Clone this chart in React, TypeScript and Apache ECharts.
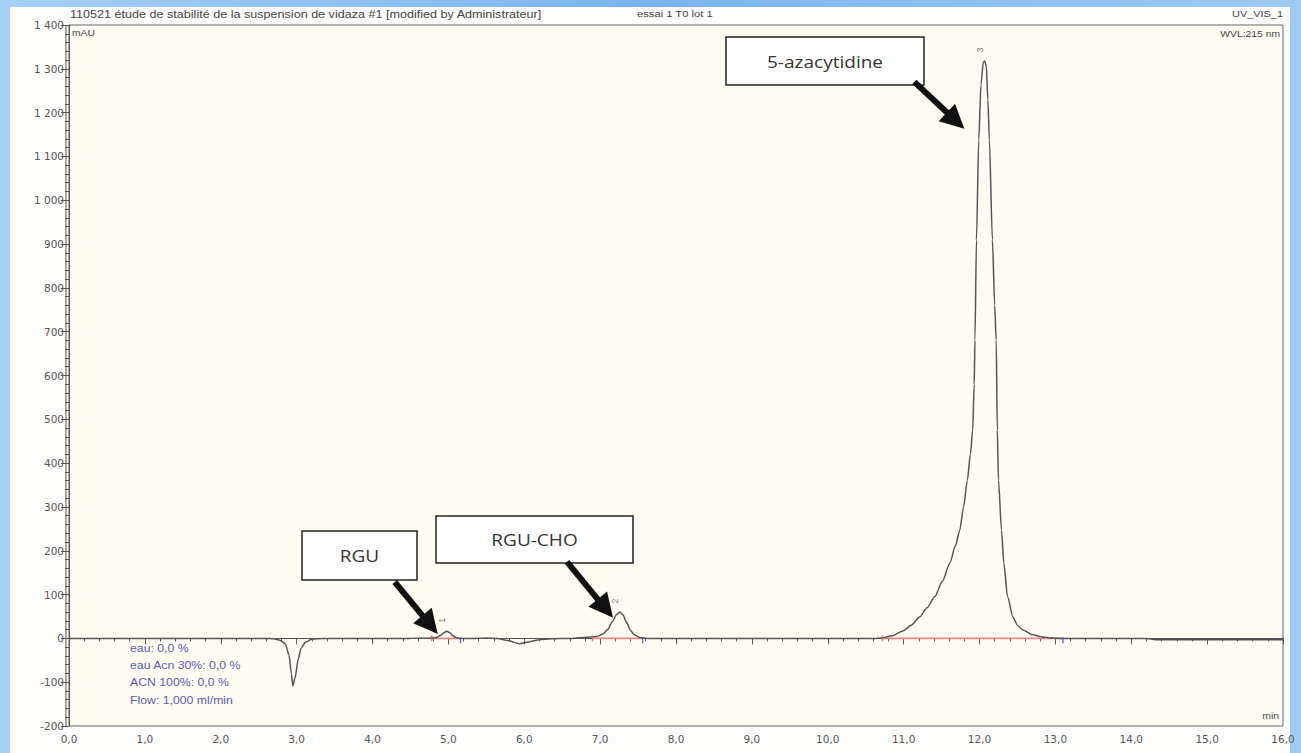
import React, { useEffect, useRef } from "react";
import * as echarts from "echarts";

// Chromatogram trace: retention time (min) and detector signal (mAU)
const timeMin = [
  0.0, 0.5, 1.0, 1.5, 2.0, 2.5, 2.6, 2.7, 2.78, 2.85, 2.9, 2.93, 2.95, 2.98, 3.02, 3.06, 3.12, 3.2, 3.35,
  4.0, 4.5, 4.75, 4.84, 4.9, 4.94, 4.98, 5.02, 5.06, 5.1, 5.15, 5.3, 5.5, 5.65, 5.78, 5.94, 6.06, 6.2, 6.35,
  6.6, 6.8, 6.95, 7.04, 7.1, 7.16, 7.22, 7.26, 7.3, 7.35, 7.4, 7.45, 7.52, 7.62, 8.0, 9.0, 10.0, 10.6,
  10.72, 10.85, 10.99, 11.1, 11.21, 11.31, 11.41, 11.51, 11.61, 11.68, 11.74, 11.79, 11.84, 11.88, 11.91,
  11.93, 11.94, 11.96, 11.99, 12.02, 12.05, 12.07, 12.09, 12.11, 12.13, 12.17, 12.2, 12.22, 12.235, 12.25,
  12.29, 12.32, 12.37, 12.44, 12.5, 12.57, 12.7, 12.83, 12.95, 13.1, 14.0, 14.2, 14.32, 14.5, 15.0, 16.0,
];
const signalMAU = [
  0, 0, 0, 0, 0, 0, 0, -1, -4, -12, -38, -80, -108, -90, -48, -22, -8, -2, 0,
  0, 0, 0.5, 2, 7, 13, 16, 13, 6, 2, 0, 0, 1, 0, -5, -12, -8, -3, -1,
  0, 2, 4, 10, 20, 38, 55, 60, 54, 36, 18, 8, 2, 0, 0, 0, 0, 0,
  1, 6, 17, 30, 49, 70, 95, 130, 172, 210, 247, 300, 361, 420, 475,
  580, 681, 910, 1138, 1265, 1315, 1318, 1305, 1230, 1138, 910, 760, 681, 475, 361,
  247, 172, 95, 49, 30, 19, 8, 3, 1, 0, 0, 0, -3, -3, -3, -3,
];

// Integrated peaks
const peakNumbers = ["1", "2", "3"];
const peakTimes = [4.98, 7.26, 12.07];
const peakHeights = [16, 60, 1318];
const integrationStart = [4.78, 6.9, 10.72];
const integrationEnd = [5.16, 7.56, 13.1];

// Compound annotations
const compoundNames = ["RGU", "RGU-CHO", "5-azacytidine"];
const arrowTipTime = [4.86, 7.17, 11.8];
const arrowTipSignal = [10, 47, 1163];

// Method conditions printed in the plot
const methodLines = ["eau: 0,0 %", "eau Acn 30%: 0,0 %", "ACN 100%: 0,0 %", "Flow: 1,000 ml/min"];

const reportTitle = "110521 étude de stabilité de la suspension de vidaza #1 [modified by Administrateur]";
const injectionName = "essai 1 T0 lot 1";
const channelName = "UV_VIS_1";
const wavelengthLabel = "WVL:215 nm";

// Annotation layout (px)
const boxRects = [
  [302, 531, 115, 49],
  [436, 516, 197, 47],
  [726, 37, 198, 48],
];
const tailOffsets = [
  [-43, -52],
  [-46, -56],
  [-50, -47],
];

const AXIS_FONT = "DejaVu Sans";
const TEXT_FONT = "Liberation Sans";

function fmtY(v: number): string {
  const a = Math.abs(v);
  const s = a >= 1000 ? `${Math.floor(a / 1000)} ${String(a % 1000).padStart(3, "0")}` : String(a);
  return v < 0 ? `-${s}` : s;
}

export default function App() {
  const ref = useRef<HTMLDivElement>(null);

  useEffect(() => {
    if (!ref.current) return;
    const chart = echarts.init(ref.current, undefined, { renderer: "svg" });

    const trace = timeMin.map((t, i) => [t, signalMAU[i]]);
    const baselineSeries = integrationStart.map((s, i) => ({
      type: "line",
      silent: true,
      symbol: "none",
      z: 1,
      data: [
        [s, 0],
        [integrationEnd[i], 0],
      ],
      lineStyle: { color: "#e38888", width: 1.8 },
    }));

    const option: any = {
      animation: false,
      backgroundColor: "transparent",
      grid: {
        left: 69,
        right: 18,
        top: 25,
        bottom: 27,
        show: true,
        backgroundColor: "#fffcf2",
        borderColor: "#666",
        borderWidth: 1,
      },
      xAxis: {
        type: "value",
        min: 0,
        max: 16,
        interval: 1,
        offset: 2,
        axisLine: { show: true, lineStyle: { color: "#555", width: 1 } },
        axisTick: { show: true, length: 6, lineStyle: { color: "#555" } },
        minorTick: { show: true, splitNumber: 5, length: 3, lineStyle: { color: "#555" } },
        splitLine: { show: false },
        axisLabel: {
          color: "#555",
          fontSize: 10.5,
          fontFamily: AXIS_FONT,
          margin: 5,
          formatter: (v: number) => v.toFixed(1).replace(".", ","),
        },
      },
      yAxis: {
        type: "value",
        min: -200,
        max: 1400,
        interval: 100,
        offset: 3,
        axisLine: { show: true, lineStyle: { color: "#555", width: 1 } },
        axisTick: { show: true, length: 8, lineStyle: { color: "#555" } },
        minorTick: { show: true, splitNumber: 5, length: 4, lineStyle: { color: "#555" } },
        splitLine: { show: false },
        axisLabel: {
          color: "#555",
          fontSize: 10.5,
          fontFamily: AXIS_FONT,
          margin: 2,
          formatter: fmtY,
        },
      },
      series: [
        ...baselineSeries,
        {
          type: "line",
          data: trace,
          symbol: "none",
          smooth: 0.25,
          smoothMonotone: "x",
          z: 3,
          lineStyle: { color: "#555", width: 1.5 },
        },
        {
          type: "scatter",
          z: 4,
          symbol: "rect",
          symbolSize: [1.5, 6],
          itemStyle: { color: "#d46a6a" },
          data: integrationStart.map((s) => [s, 0]),
        },
        {
          type: "scatter",
          z: 4,
          symbol: "rect",
          symbolSize: [1.5, 6],
          symbolOffset: [0, 2],
          itemStyle: { color: "#4a55c0" },
          data: integrationEnd.map((s) => [s, 0]),
        },
        {
          type: "scatter",
          z: 4,
          symbolSize: 0,
          data: peakTimes.map((t, i) => [t, peakHeights[i], peakNumbers[i]]),
          label: {
            show: true,
            position: "top",
            distance: 11,
            rotate: 90,
            fontSize: 9,
            fontFamily: TEXT_FONT,
            color: "#555",
            formatter: (p: any) => p.data[2],
          },
        },
      ],
    };
    chart.setOption(option);

    const graphics: any[] = [];

    // second vertical rule of the signal axis
    graphics.push({
      type: "line",
      shape: { x1: 66, y1: 25, x2: 66, y2: 726 },
      style: { stroke: "#555", lineWidth: 1 },
      silent: true,
    });

    const txt = (
      text: string,
      x: number,
      y: number,
      align: string,
      opts: { size?: number; fill?: string; font?: string; sx?: number } = {}
    ) => ({
      type: "text",
      x,
      y,
      scaleX: opts.sx ?? 1.15,
      silent: true,
      z: 10,
      style: {
        text,
        fill: opts.fill ?? "#444",
        fontSize: opts.size ?? 9,
        fontFamily: opts.font ?? TEXT_FONT,
        align,
        verticalAlign: "middle",
      },
    });

    graphics.push(txt(reportTitle, 70, 14, "left", { size: 10, sx: 1.26 }));
    graphics.push(txt(injectionName, 637, 14, "left", { size: 9.5, sx: 1.18 }));
    graphics.push(txt(channelName, 1283, 14, "right", { size: 9.5 }));
    graphics.push(txt("mAU", 72, 33, "left"));
    graphics.push(txt(wavelengthLabel, 1280, 34, "right"));
    graphics.push(txt("min", 1279, 716, "right"));
    methodLines.forEach((line, i) => {
      graphics.push(txt(line, 130, 648 + i * 17.3, "left", { fill: "#5a5ab8", size: 10.5, sx: 1.17 }));
    });

    // compound boxes and arrows
    compoundNames.forEach((name, i) => {
      const [bx, by, bw, bh] = boxRects[i];
      graphics.push({
        type: "rect",
        z: 20,
        silent: true,
        shape: { x: bx, y: by, width: bw, height: bh },
        style: { fill: "#ffffff", stroke: "#222", lineWidth: 1.5 },
      });
      graphics.push({
        type: "text",
        z: 21,
        silent: true,
        x: bx + bw / 2,
        y: by + bh / 2,
        scaleX: 1.12,
        style: {
          text: name,
          fill: "#333",
          fontSize: 17,
          fontFamily: "Open Sans",
          align: "center",
          verticalAlign: "middle",
        },
      });

      const [tx, ty] = chart.convertToPixel({ gridIndex: 0 }, [arrowTipTime[i], arrowTipSignal[i]]) as number[];
      const [ox, oy] = tailOffsets[i];
      const sx = tx + ox;
      const sy = ty + oy;
      const len = Math.hypot(ox, oy);
      const ux = -ox / len;
      const uy = -oy / len;
      const headLen = 24;
      const hw = 12;
      const hx = tx - ux * headLen;
      const hy = ty - uy * headLen;
      const px = -uy;
      const py = ux;
      graphics.push({
        type: "line",
        z: 22,
        silent: true,
        shape: { x1: sx, y1: sy, x2: hx + ux * 2, y2: hy + uy * 2 },
        style: { stroke: "#111", lineWidth: 6 },
      });
      graphics.push({
        type: "polygon",
        z: 22,
        silent: true,
        shape: {
          points: [
            [tx, ty],
            [hx + px * hw, hy + py * hw],
            [hx - px * hw, hy - py * hw],
          ],
        },
        style: { fill: "#111" },
      });
    });

    chart.setOption({ graphic: graphics });

    return () => chart.dispose();
  }, []);

  return (
    <div
      style={{
        position: "fixed",
        left: 0,
        top: 0,
        width: 1301,
        height: 753,
        background: "linear-gradient(90deg, #a6d0f5 0%, #7db3ee 50%, #9fcbf4 100%)",
        overflow: "hidden",
      }}
    >
      <div
        style={{
          position: "absolute",
          left: 10,
          top: 7,
          width: 1280,
          height: 746,
          background: "#fdfdfb",
        }}
      />
      <div ref={ref} style={{ position: "absolute", left: 0, top: 0, width: 1301, height: 753 }} />
    </div>
  );
}
